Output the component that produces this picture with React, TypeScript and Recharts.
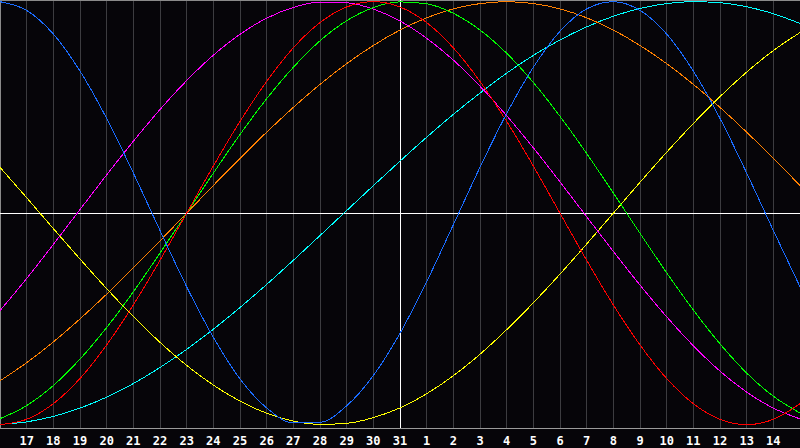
import React from 'react';
import { LineChart, Line, XAxis, YAxis, CartesianGrid, ReferenceLine } from 'recharts';

// day labels, 16th of the month to the 15th of the next
const days = [16, 17, 18, 19, 20, 21, 22, 23, 24, 25, 26, 27, 28, 29, 30, 31, 1, 2, 3, 4, 5, 6, 7, 8, 9, 10, 11, 12, 13, 14, 15];

const physical = [1.0, 0.959, 0.847, 0.672, 0.448, 0.19, -0.082, -0.348, -0.587, -0.784, -0.921, -0.992, -0.989, -0.911, -0.768, -0.568, -0.324, -0.055, 0.217, 0.471, 0.69, 0.86, 0.966, 1.0, 0.959, 0.847, 0.672, 0.448, 0.19, -0.082, -0.348];
const emotional = [-1.0, -0.975, -0.901, -0.782, -0.623, -0.434, -0.223, 0, 0.223, 0.434, 0.623, 0.782, 0.901, 0.975, 1.0, 0.975, 0.901, 0.782, 0.623, 0.434, 0.223, 0, -0.223, -0.434, -0.623, -0.782, -0.901, -0.975, -1.0, -0.975, -0.901];
const intellectual = [-0.972, -0.91, -0.815, -0.69, -0.541, -0.372, -0.189, 0, 0.189, 0.372, 0.541, 0.69, 0.815, 0.91, 0.972, 0.999, 0.99, 0.945, 0.866, 0.756, 0.618, 0.458, 0.282, 0.095, -0.095, -0.282, -0.458, -0.618, -0.756, -0.866, -0.945];
const intuitive = [-0.461, -0.309, -0.148, 0.017, 0.181, 0.34, 0.49, 0.627, 0.747, 0.846, 0.922, 0.973, 0.998, 0.995, 0.965, 0.909, 0.827, 0.724, 0.6, 0.461, 0.309, 0.148, -0.017, -0.181, -0.34, -0.49, -0.627, -0.747, -0.846, -0.922, -0.973];
const aesthetic = [0.217, 0.073, -0.073, -0.217, -0.357, -0.489, -0.611, -0.72, -0.813, -0.889, -0.946, -0.983, -0.999, -0.994, -0.967, -0.921, -0.854, -0.769, -0.667, -0.551, -0.424, -0.288, -0.146, 0, 0.146, 0.288, 0.424, 0.551, 0.667, 0.769, 0.854];
const awareness = [-0.793, -0.707, -0.609, -0.5, -0.383, -0.259, -0.131, 0, 0.131, 0.259, 0.383, 0.5, 0.609, 0.707, 0.793, 0.866, 0.924, 0.966, 0.991, 1.0, 0.991, 0.966, 0.924, 0.866, 0.793, 0.707, 0.609, 0.5, 0.383, 0.259, 0.131];
const spiritual = [-0.999, -0.987, -0.961, -0.922, -0.87, -0.806, -0.73, -0.644, -0.549, -0.446, -0.337, -0.223, -0.106, 0.012, 0.13, 0.246, 0.359, 0.467, 0.568, 0.662, 0.746, 0.819, 0.881, 0.931, 0.968, 0.991, 1.0, 0.995, 0.976, 0.943, 0.897];

const todayIndex = 15;

const data = days.map((day, i) => ({
    i,
    day,
    physical: physical[i],
    emotional: emotional[i],
    intellectual: intellectual[i],
    intuitive: intuitive[i],
    aesthetic: aesthetic[i],
    awareness: awareness[i],
    spiritual: spiritual[i],
}));

const labelTicks = data.slice(1, -1).map((d) => d.i);

const series = [
    { key: 'spiritual', color: '#00ffff' },
    { key: 'awareness', color: '#ff8000' },
    { key: 'aesthetic', color: '#ffff00' },
    { key: 'intuitive', color: '#ff00ff' },
    { key: 'intellectual', color: '#00ff00' },
    { key: 'emotional', color: '#ff0000' },
    { key: 'physical', color: '#1a6cff' },
];

export default function App() {
    return (
        <div style={{ position: 'fixed', left: 0, top: 0, width: 800, height: 448, background: '#060509', shapeRendering: 'crispEdges' }}>
            <LineChart width={800} height={448} data={data} margin={{ top: 0, right: 0, left: 0, bottom: 0 }}>
                <CartesianGrid horizontal={false} stroke="#3c3c40" strokeWidth={1} />
                <XAxis
                    dataKey="i"
                    type="number"
                    domain={[0, 30]}
                    ticks={labelTicks}
                    tickFormatter={(v) => String(days[v])}
                    height={20}
                    tickLine={false}
                    axisLine={{ stroke: '#9a9a9a' }}
                    interval={0}
                    tick={{ fill: '#ffffff', fontSize: 12, fontWeight: 'bold', fontFamily: 'DejaVu Sans Mono' }}
                />
                <YAxis hide domain={[-1.016, 1.008]} allowDataOverflow />
                <ReferenceLine x={0} stroke="#8a8a8a" strokeWidth={2} />
                <ReferenceLine y={1.008} stroke="#8a8a8a" strokeWidth={2} />
                <ReferenceLine y={0} stroke="#ffffff" strokeWidth={1} />
                <ReferenceLine x={todayIndex} stroke="#ffffff" strokeWidth={1} />
                {series.map((s) => (
                    <Line
                        key={s.key}
                        type="monotone"
                        dataKey={s.key}
                        stroke={s.color}
                        strokeWidth={1}
                        dot={false}
                        activeDot={false}
                        isAnimationActive={false}
                    />
                ))}
            </LineChart>
        </div>
    );
}
